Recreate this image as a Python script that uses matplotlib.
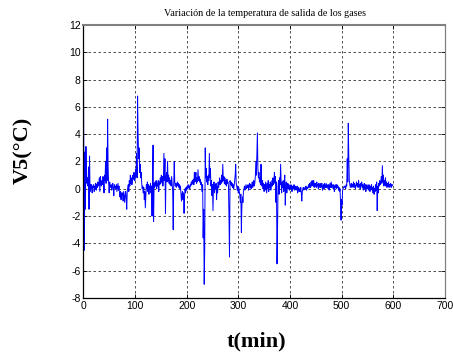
import numpy as np
import matplotlib
matplotlib.use("Agg")
import matplotlib.pyplot as plt

plt.rcParams["axes.unicode_minus"] = False

# V5 temperature deviation, one sample per minute
v5 = [
    11.6, 0.5, -4.5, 2.7, -1.5, 3.1, 1.0, 0.4, 0.8, 0.2,
    1.6, -1.5, 2.4, -0.2, 0.3, 0.0, 0.3, -0.3, 0.2, 0.1,
    0.3, -0.2, 0.2, 0.0, 0.4, -0.1, 0.3, 0.1, 0.5, 0.2,
    0.3, 0.8, -0.2, 0.9, 0.4, 0.2, 0.6, 0.3, 0.9, 0.5,
    -0.3, 1.0, 0.6, 2.0, 0.4, 3.0, 0.6, 5.1, 1.5, 0.4,
    -0.3, 0.5, 0.2, 0.1, 0.3, -0.1, 0.2, 0.4, 0.0, -0.5,
    0.3, 0.1, 0.2, 0.0, 0.3, -0.2, 0.1, 0.4, -0.1, 0.2,
    -0.3, -0.6, -0.2, -0.8, -0.3, -0.5, -0.3, -0.9, -0.2, -0.6,
    -1.0, -0.4, -0.2, -0.7, -1.5, -0.2, 0.1, 0.3, -0.2, 0.6,
    0.2, 1.0, 0.4, 0.8, 0.3, 0.6, 1.0, 0.7, 1.2, 0.6,
    0.6, 1.4, 0.9, 2.6, 0.8, 6.8, 4.0, 2.2, 3.0, 1.2,
    1.8, 0.8, 1.2, 0.4, 0.0, 0.2, -0.3, 0.1, -0.8, -0.2,
    -1.4, -0.5, 0.3, 0.0, 0.5, -0.2, 0.3, -0.4, 0.2, 0.0,
    0.4, -0.3, 0.2, -2.0, 1.0, 3.2, -2.4, 0.4, 0.1, 0.5,
    0.2, 0.6, 0.0, 0.4, 0.2, 0.6, -0.2, 0.5, 0.3, 0.8,
    0.4, 1.0, 0.5, 0.9, 0.2, 0.7, 2.6, 0.6, 2.2, -1.8,
    0.8, 1.2, 0.5, 2.0, 0.6, 1.0, 0.4, 0.8, 0.3, 0.6,
    0.2, 0.9, 0.4, -0.2, -3.0, 0.3, 2.0, 0.5, 0.2, 0.4,
    0.1, 0.3, 0.5, 0.2, 0.4, 0.1, 0.3, 0.0, 0.2, -0.3,
    -0.9, -0.4, -0.2, -0.8, -0.3, -1.8, -0.5, 0.0, -0.3, 0.1,
    -0.1, 0.2, 0.0, 0.3, 0.1, 0.2, 0.0, 0.3, 0.2, 0.5,
    0.3, 0.6, 0.4, 0.7, 0.3, 1.2, 0.5, 0.9, 1.2, 0.4,
    0.8, 0.5, 1.4, 0.6, 0.9, 0.5, 0.7, 0.3, 0.5, 0.2,
    -0.2, 0.3, -3.6, -1.5, -7.0, -4.5, 3.0, 0.8, 1.5, 0.5,
    0.9, 0.3, 1.0, 0.6, 2.6, 0.8, 1.5, 0.2, 0.6, -0.5,
    0.3, -1.6, 0.2, 0.5, -0.3, 0.3, 0.0, 0.4, -0.8, 0.2,
    -0.3, 0.5, 0.1, 0.4, 0.8, 0.3, 0.6, 0.4, 1.0, 0.5,
    1.8, 0.6, 0.9, 0.4, 0.8, 0.3, 0.6, 0.2, 0.7, 0.4,
    0.5, 0.2, -2.0, -5.0, 0.6, 0.3, 0.5, 0.2, 0.4, 0.1,
    0.3, 0.0, 0.2, 0.6, 1.0, 1.8, 0.4, 0.2, -0.1, 0.2,
    -0.3, 0.1, -0.2, -0.5, -1.0, -0.4, -3.2, -1.2, -0.6, -1.0,
    -0.2, 0.0, 0.2, -0.1, 0.1, 0.3, 0.0, 0.2, 0.1, 0.3,
    -0.1, 0.2, 0.4, 0.1, 0.3, 0.0, 0.2, 0.5, 0.1, 0.3,
    0.6, 0.2, 0.4, 0.9, 2.0, 1.0, 2.6, 4.1, 1.5, 0.8,
    1.2, 0.5, 0.8, 0.3, 1.8, 0.5, 0.2, 0.6, 0.0, 0.4,
    -0.2, 0.3, -0.1, 0.5, 0.1, -0.3, 0.4, 0.0, 0.6, -0.2,
    0.3, 0.1, 0.5, -0.1, 0.2, 0.6, 0.2, 0.8, 0.3, 0.6,
    1.2, 0.4, 0.9, -1.0, 0.5, -5.5, -3.0, 0.2, 0.6, -0.4,
    0.8, 0.3, 1.8, 0.4, -0.3, 0.5, 0.1, 0.6, -0.2, 0.3,
    1.0, -1.2, 0.2, 0.5, -0.3, 0.2, 0.4, 0.0, 0.3, -0.1,
    0.2, 0.0, 0.3, 0.1, -0.2, 0.2, 0.0, 0.1, 0.3, -0.1,
    0.2, 0.0, -0.1, 0.1, 0.2, -0.3, 0.0, 0.1, -0.2, 0.0,
    -0.2, 0.1, -0.3, -0.9, -0.2, 0.0, 0.1, -0.1, 0.0, 0.1,
    0.0, 0.2, -0.1, 0.1, 0.0, 0.1, 0.3, 0.1, 0.4, 0.1,
    0.1, 0.5, 0.2, 0.6, 0.3, 0.2, 0.6, 0.1, 0.4, 0.2,
    0.4, 0.1, 0.5, 0.2, 0.3, 0.0, 0.4, 0.3, 0.1, 0.4,
    0.1, 0.3, 0.4, -0.1, 0.2, 0.3, 0.0, 0.4, 0.2, 0.1,
    0.4, 0.1, 0.3, 0.2, 0.0, 0.3, -0.1, 0.2, 0.4, 0.1,
    0.5, 0.1, 0.3, 0.2, 0.0, 0.3, -0.2, 0.2, 0.1, 0.3,
    0.0, 0.3, 0.1, 0.2, -0.1, 0.1, -0.2, 0.0, -1.0, -2.3,
    -0.8, -1.2, -0.1, 0.0, 0.1, 0.2, 0.1, 0.2, 0.0, 0.3,
    0.2, 2.2, 0.5, 4.8, 2.4, 0.6, 0.3, 0.1, 0.3, 0.4,
    0.1, 0.3, 0.2, 0.5, 0.1, 0.4, 0.2, 0.0, 0.3, 0.5,
    0.2, 0.4, 0.1, 0.6, 0.2, 0.3, 0.0, 0.4, 0.2, 0.5,
    0.1, 0.3, -0.1, 0.2, 0.4, 0.0, 0.3, -0.2, 0.1, 0.3,
    0.0, 0.2, -0.1, 0.3, 0.1, -0.2, 0.2, 0.0, 0.3, -0.1,
    0.1, -0.3, 0.2, -0.4, 0.0, -0.2, 0.3, -0.1, 0.5, -1.6,
    0.2, -0.3, 0.4, 0.2, 0.6, 0.3, 0.5, 0.9, 0.4, 1.7,
    0.5, 1.0, 0.2, 0.6, 0.3, 0.8, 0.2, 0.5, 0.1, 0.4,
    0.2, 0.5, 0.1, 0.3, 0.2, 0.4, 0.1, 0.3, 0.2, 0.3,
]
t_min = np.arange(len(v5))

x_ticks = [0, 100, 200, 300, 400, 500, 600, 700]
y_ticks = [-8, -6, -4, -2, 0, 2, 4, 6, 8, 10, 12]

fig = plt.figure(figsize=(4.53, 3.53), dpi=100)
ax = fig.add_axes([0.184, 0.156, 0.798, 0.773])

ax.plot(t_min, v5, color="#0000ff", lw=0.7)

ax.set_xlim(0, 700)
ax.set_ylim(-8, 12)
ax.set_xticks(x_ticks)
ax.set_yticks(y_ticks)
ax.grid(True, color="#333333", linestyle=(0, (3, 3)), lw=0.6)
ax.tick_params(direction="in", length=3, width=0.6, top=True, right=True,
               labelsize=7.5, pad=2)
for lab in ax.get_xticklabels() + ax.get_yticklabels():
    lab.set_family("Liberation Sans")

ax.spines["left"].set_color("black")
ax.spines["bottom"].set_color("black")
ax.spines["top"].set_color("#808080")
ax.spines["right"].set_color("#808080")
for s in ax.spines.values():
    s.set_linewidth(0.9)
ax.spines["top"].set_linewidth(1.5)

fig.text(0.585, 0.962, "Variación de la temperatura de salida de los gases",
         ha="center", va="center", fontsize=7.3, family="Liberation Serif")
fig.text(0.052, 0.575, "V5(°C)", rotation=90, ha="center", va="center",
         fontsize=16, fontweight="bold", family="Liberation Serif")
fig.text(0.567, 0.032, "t(min)", ha="center", va="center",
         fontsize=16, fontweight="bold", family="Liberation Serif")

fig.savefig("out.png", dpi=100)
